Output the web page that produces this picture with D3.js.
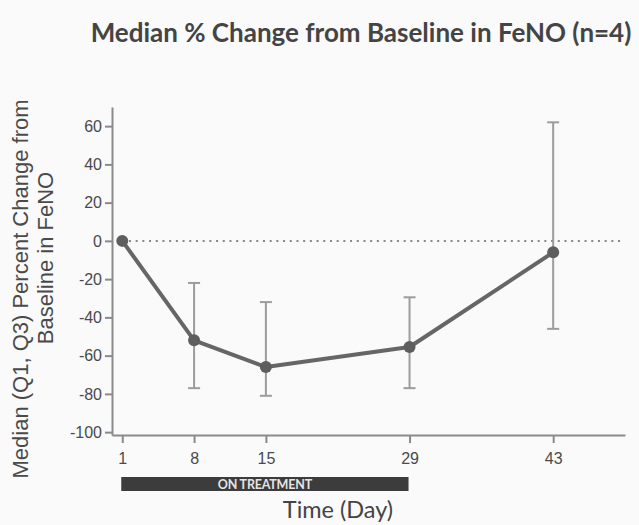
<!DOCTYPE html>
<html>
<head>
<meta charset="utf-8">
<script src="https://cdn.jsdelivr.net/npm/d3@7"></script>
<style>
  html, body { margin: 0; padding: 0; background: #fafafa; }
  svg { display: block; }
</style>
</head>
<body>
<svg id="chart" width="639" height="525"></svg>
<script>
const days = [1, 8, 15, 29, 43];
const medians = [0, -52, -66, -55.5, -6];
const q1 = [0, -77, -81, -77, -46];
const q3 = [0, -22, -32, -29.5, 62];
const xTicks = [1, 8, 15, 29, 43];
const yTicks = [-100, -80, -60, -40, -20, 0, 20, 40, 60];
const treatment = [1, 29];

const svg = d3.select("#chart");
svg.append("rect").attr("width", 639).attr("height", 525).attr("fill", "#fafafa");

const x = d3.scaleLinear().domain([0, 50]).range([112, 625]);
const y = d3.scaleLinear().domain([-101.5, 70]).range([435, 107]);

const axisColor = "#8a8a8a";
const tickFont = "'Liberation Sans', Arial, sans-serif";

// Title
svg.append("text")
  .attr("x", 361).attr("y", 42)
  .attr("text-anchor", "middle")
  .attr("font-family", "Lato, sans-serif")
  .attr("font-weight", "bold")
  .attr("font-size", 26)
  .attr("fill", "#444")
  .text("Median % Change from Baseline in FeNO (n=4)");

// Y axis
const yAxis = svg.append("g")
  .attr("transform", `translate(${x(0)},0)`)
  .call(d3.axisLeft(y).tickValues(yTicks).tickFormat(d => String(d))
    .tickSize(7).tickPadding(3).tickSizeOuter(0));
yAxis.select(".domain").attr("stroke", axisColor).attr("stroke-width", 2);
yAxis.selectAll(".tick line").attr("stroke", axisColor).attr("stroke-width", 2);
yAxis.selectAll(".tick text")
  .attr("font-family", tickFont).attr("font-size", 16).attr("fill", "#4a4a4a");

// X axis
const xAxis = svg.append("g")
  .attr("transform", `translate(0,${y(-101.5)})`)
  .call(d3.axisBottom(x).tickValues(xTicks).tickFormat(d => String(d))
    .tickSize(8).tickPadding(10).tickSizeOuter(0));
xAxis.select(".domain").attr("stroke", axisColor).attr("stroke-width", 2);
xAxis.selectAll(".tick line").attr("stroke", axisColor).attr("stroke-width", 2);
xAxis.selectAll(".tick text")
  .attr("font-family", tickFont).attr("font-size", 16).attr("fill", "#4a4a4a");

// Zero reference line (dotted)
svg.append("line")
  .attr("x1", x(1)).attr("x2", 622)
  .attr("y1", y(0)).attr("y2", y(0))
  .attr("stroke", "#888").attr("stroke-width", 2)
  .attr("stroke-dasharray", "2,4.7");

// Error bars
const eb = svg.append("g").attr("stroke", "#9c9c9c").attr("stroke-width", 2);
days.forEach((d, i) => {
  if (q1[i] === q3[i]) return;
  eb.append("line").attr("x1", x(d)).attr("x2", x(d)).attr("y1", y(q1[i])).attr("y2", y(q3[i]));
  eb.append("line").attr("x1", x(d) - 6).attr("x2", x(d) + 6).attr("y1", y(q1[i])).attr("y2", y(q1[i]));
  eb.append("line").attr("x1", x(d) - 6).attr("x2", x(d) + 6).attr("y1", y(q3[i])).attr("y2", y(q3[i]));
});

// Median line
const pts = days.map((d, i) => [d, medians[i]]);
svg.append("path")
  .datum(pts)
  .attr("fill", "none")
  .attr("stroke", "#666")
  .attr("stroke-width", 4)
  .attr("stroke-linejoin", "round")
  .attr("d", d3.line().x(p => x(p[0])).y(p => y(p[1])));

svg.append("g").selectAll("circle")
  .data(pts).join("circle")
  .attr("cx", p => x(p[0])).attr("cy", p => y(p[1]))
  .attr("r", 6).attr("fill", "#5e5e5e");

// Treatment bar
svg.append("rect")
  .attr("x", x(treatment[0]) - 1).attr("y", 477)
  .attr("width", x(treatment[1]) - x(treatment[0]))
  .attr("height", 14)
  .attr("fill", "#3c3c3c");
svg.append("text")
  .attr("x", (x(treatment[0]) + x(treatment[1])) / 2 - 1)
  .attr("y", 488.5)
  .attr("text-anchor", "middle")
  .attr("font-family", "Lato, sans-serif")
  .attr("font-weight", "bold")
  .attr("font-size", 12.5)
  .attr("letter-spacing", -0.2)
  .attr("fill", "#e4e4e4")
  .text("ON TREATMENT");

// X axis title
svg.append("text")
  .attr("x", 338).attr("y", 518)
  .attr("text-anchor", "middle")
  .attr("font-family", "Lato, sans-serif")
  .attr("font-size", 23.5)
  .attr("fill", "#444")
  .text("Time (Day)");

// Y axis title (two lines)
svg.append("text")
  .attr("transform", "translate(28,289) rotate(-90)")
  .attr("text-anchor", "middle")
  .attr("font-family", tickFont)
  .attr("font-size", 22)
  .attr("fill", "#4a4a4a")
  .text("Median (Q1, Q3) Percent Change from");
svg.append("text")
  .attr("transform", "translate(53,258) rotate(-90)")
  .attr("text-anchor", "middle")
  .attr("font-family", tickFont)
  .attr("font-size", 22)
  .attr("fill", "#4a4a4a")
  .text("Baseline in FeNO");
</script>
</body>
</html>
